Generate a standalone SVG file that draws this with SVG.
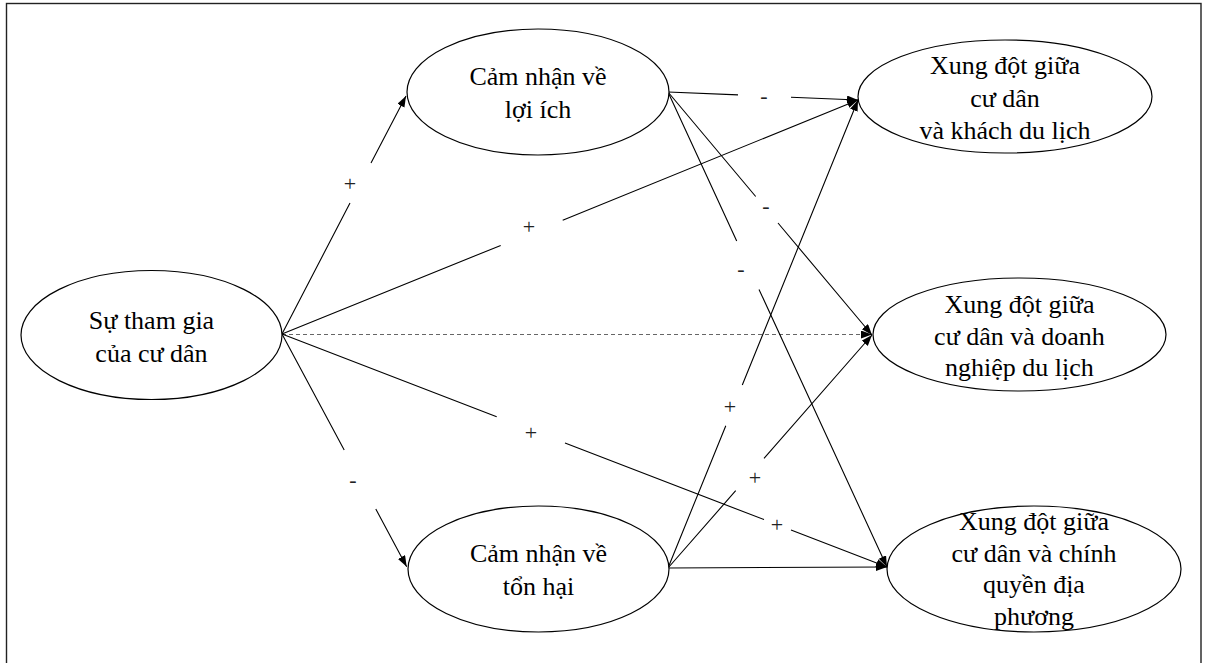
<svg xmlns="http://www.w3.org/2000/svg" width="1205" height="663" viewBox="0 0 1205 663">
<style>
.node ellipse{fill:#fff;stroke:#000;stroke-width:1.2}
.node text{font-family:"Liberation Serif","Times New Roman",serif;font-size:26px;fill:#000;text-anchor:middle}
.edge{fill:none;stroke:#000;stroke-width:1.1}
.dashed{stroke:#666;stroke-dasharray:4 3}
.lbl{font-family:"Liberation Serif","Times New Roman",serif;font-size:22px;fill:#222;text-anchor:middle}
</style>
<defs>
<marker id="arr" markerUnits="userSpaceOnUse" markerWidth="12" markerHeight="10" refX="11" refY="4" orient="auto">
<path d="M0,0 L11,4 L0,8 Z" fill="#000"/>
</marker>
</defs>
<rect x="6.5" y="3.5" width="1194.5" height="680" fill="#fff" stroke="#222" stroke-width="1.4"/>
<g id="connectors">
<path class="edge" d="M282,334 L350,203 M371,163 L406,96" marker-end="url(#arr)"/>
<path class="edge" d="M282,334 L500.7,245.4 M562.7,220.2 L858,100" marker-end="url(#arr)"/>
<path class="edge dashed" d="M282,334.5 L872,334.5" marker-end="url(#arr)"/>
<path class="edge" d="M282,334 L496.7,416.7 M565,443 L764,519.6 M791,530 L887,567" marker-end="url(#arr)"/>
<path class="edge" d="M282,334 L344.2,450 M375.8,509 L406.7,566.7" marker-end="url(#arr)"/>
<path class="edge" d="M668,92 L738,94.9 M791,97.2 L858,100" marker-end="url(#arr)"/>
<path class="edge" d="M668,92 L755.7,196.5 M778,223 L872,335" marker-end="url(#arr)"/>
<path class="edge" d="M668,92 L736.7,241 M759,289.4 L887,567" marker-end="url(#arr)"/>
<path class="edge" d="M668,568 L725.8,425.7 M742.3,385 L858,100" marker-end="url(#arr)"/>
<path class="edge" d="M668,568 L735.7,490.7 M764,458.4 L872,335" marker-end="url(#arr)"/>
<path class="edge" d="M668,568 L887,567" marker-end="url(#arr)"/>
<text class="lbl" x="350" y="190.5">+</text>
<text class="lbl" x="529" y="233.5">+</text>
<text class="lbl" x="531" y="439.5">+</text>
<text class="lbl" x="777" y="531.5">+</text>
<text class="lbl" x="353" y="487">-</text>
<text class="lbl" x="764" y="103">-</text>
<text class="lbl" x="766" y="213">-</text>
<text class="lbl" x="741" y="276">-</text>
<text class="lbl" x="730" y="413.5">+</text>
<text class="lbl" x="755" y="484.5">+</text>
</g>
<g id="n-thamgia" class="node">
<ellipse cx="151.5" cy="335" rx="130.5" ry="64.5"/>
<text x="151.5" y="329">Sự tham gia</text>
<text x="151.5" y="361.5">của cư dân</text>
</g>
<g id="n-loiich" class="node">
<ellipse cx="538" cy="92" rx="131" ry="63"/>
<text x="538" y="85">Cảm nhận về</text>
<text x="538" y="118">lợi ích</text>
</g>
<g id="n-tonhai" class="node">
<ellipse cx="538.5" cy="569" rx="130.5" ry="63"/>
<text x="538.5" y="561.5">Cảm nhận về</text>
<text x="538.5" y="595">tổn hại</text>
</g>
<g id="n-khach" class="node">
<ellipse cx="1005" cy="96.5" rx="147" ry="56.5"/>
<text x="1005" y="73.5">Xung đột giữa</text>
<text x="1005" y="106.5">cư dân</text>
<text x="1005" y="138.5">và khách du lịch</text>
</g>
<g id="n-doanhnghiep" class="node">
<ellipse cx="1019.5" cy="334.5" rx="146.5" ry="56.5"/>
<text x="1019.5" y="313">Xung đột giữa</text>
<text x="1019.5" y="344.5">cư dân và doanh</text>
<text x="1019.5" y="376">nghiệp du lịch</text>
</g>
<g id="n-chinhquyen" class="node">
<ellipse cx="1034" cy="569" rx="147" ry="63"/>
<text x="1034" y="530">Xung đột giữa</text>
<text x="1034" y="561.5">cư dân và chính</text>
<text x="1034" y="593">quyền địa</text>
<text x="1034" y="625">phương</text>
</g>
</svg>
